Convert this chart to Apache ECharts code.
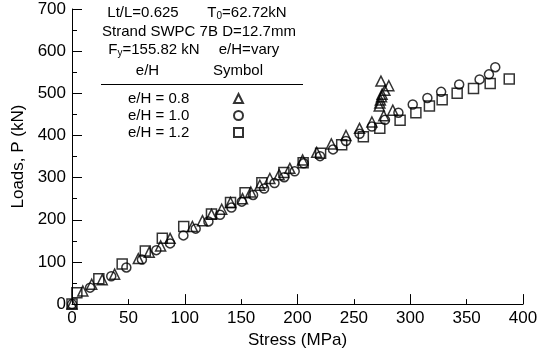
<!DOCTYPE html>
<html>
<head>
<meta charset="utf-8">
<script src="https://cdn.jsdelivr.net/npm/echarts@6/dist/echarts.min.js"></script>
<style>
html,body{margin:0;padding:0;background:#fff;}
#chart{width:550px;height:354px;}
</style>
</head>
<body>
<div id="chart"></div>
<script>
// e/H = 0.8 (triangles): [stress MPa, load kN]
var seriesEH08 = [
  [0,0],[9.6,31],[17.5,47],[26.8,58],[37.8,71],[58.8,108],[68.5,123],[78.6,138],
  [87,156],[106.8,184],[115.7,198],[123.7,213],[132.8,225],[140.6,241],[151.2,250],
  [158.6,266],[166.6,282],[175.5,298],[183.7,307],[193.2,322],[204.5,342],[217,360],
  [230,380],[243,400],[255,417],[266,432],[276.5,447],[284.5,460],
  [272.5,470],[273,477],[273.5,484],[274.5,492],[275,498],[277.5,507],[281,518],[274,529]
];
// e/H = 1.0 (circles)
var seriesEH10 = [
  [0,0],[16,39],[34.8,66],[48.2,87],[62,105.5],[74.8,128],[87,144],[98.8,163],
  [109.7,179],[121,196],[131.3,212],[141.4,229],[150.6,243],[160.6,259],[170.4,274],
  [179.6,287],[188.2,301],[197.5,315],[205.5,334],[220,351],[231.5,367],[243,387],
  [255,404],[266,421],[277.6,437],[289.5,454],[302.2,473.5],[315.2,489],[327.4,503.5],
  [343.4,521],[361.5,533],[369.8,545],[375.4,562]
];
// e/H = 1.2 (squares)
var seriesEH12 = [
  [0,0],[4.3,27],[23.8,60],[44.5,95],[65,126],[80.1,156],[99.1,184],[123.7,214],
  [140.6,241],[153.5,264],[168.4,288],[187.9,312],[205,335],[220.5,358],[239.2,378],
  [258.4,397],[273,417],[291,436],[305,454],[317,470],[328.3,485],[341.6,500],
  [356.1,511.5],[370.9,523],[387.8,534]
];
var seriesNames = ['e/H = 0.8','e/H = 1.0','e/H = 1.2'];
var xTicks = {min:0, max:400, step:50};
var yTicks = {min:0, max:700, step:100};

var FONT = 'Arial, "Liberation Sans", sans-serif';
var chart = echarts.init(document.getElementById('chart'), null, {renderer:'canvas'});

function sc(name, data, symbol, size){
  return {
    name: name, type:'scatter', data:data, symbol:symbol, symbolSize:size,
    xAxisIndex:0, yAxisIndex:0,
    itemStyle:{color:'rgba(255,255,255,0)', borderColor:'#000', borderWidth:1.5},
    emphasis:{disabled:true}
  };
}
var subRich = {sub:{fontSize:10, fontFamily:FONT, color:'#000', padding:[6,0,0,0]}};
function txt(x,y,t,rich){
  return {type:'text', x:x, y:y, style:{text:t, fontSize:15, fontFamily:FONT, fill:'#000',
    align:'center', verticalAlign:'middle', rich:rich||{}}};
}

var option = {
  animation:false,
  backgroundColor:'#fff',
  grid:{left:72, right:27, top:9, bottom:49, containLabel:false},
  xAxis:[{
    type:'value', min:xTicks.min, max:xTicks.max, interval:xTicks.step,
    name:'Stress (MPa)', nameLocation:'middle', nameGap:27,
    nameTextStyle:{fontSize:17, fontFamily:FONT, color:'#000'},
    axisLine:{show:true, lineStyle:{color:'#000', width:1}},
    axisTick:{show:true, inside:true, length:5, lineStyle:{color:'#000'}},
    axisLabel:{fontSize:17, fontFamily:FONT, color:'#000', margin:6},
    splitLine:{show:false}
  },{
    type:'value', min:xTicks.min, max:xTicks.max, interval:xTicks.step*2, position:'bottom',
    axisLine:{show:false}, axisLabel:{show:false},
    axisTick:{show:true, inside:true, length:10, lineStyle:{color:'#000'}},
    splitLine:{show:false}
  }],
  yAxis:[{
    type:'value', min:yTicks.min, max:yTicks.max, interval:yTicks.step,
    name:'Loads, P (kN)', nameLocation:'middle', nameGap:42,
    nameTextStyle:{fontSize:17, fontFamily:FONT, color:'#000'},
    axisLine:{show:true, lineStyle:{color:'#000', width:1}},
    axisTick:{show:true, inside:true, length:10, lineStyle:{color:'#000'}},
    minorTick:{show:true, splitNumber:2, length:5, lineStyle:{color:'#000'}},
    axisLabel:{fontSize:17, fontFamily:FONT, color:'#000', margin:6},
    splitLine:{show:false}
  }],
  legend:{
    orient:'vertical', left:123, top:86, align:'right',
    itemGap:2, itemWidth:9, itemHeight:9,
    data:seriesNames,
    formatter:function(n){ return '{a|' + n + '}'; },
    textStyle:{fontSize:15, fontFamily:FONT, color:'#000', lineHeight:15,
      rich:{a:{width:101, align:'left', fontSize:15, fontFamily:FONT, color:'#000', lineHeight:15}}},
    selectedMode:false
  },
  graphic:[
    txt(143,13,'Lt/L=0.625'),
    txt(247,13,'T{sub|0}=62.72kN',subRich),
    txt(199,32,'Strand SWPC 7B D=12.7mm'),
    txt(154,50,'F{sub|y}=155.82 kN',subRich),
    txt(249,50,'e/H=vary'),
    txt(147.5,71,'e/H'),
    txt(238,71,'Symbol'),
    {type:'line', shape:{x1:101, y1:84.5, x2:303, y2:84.5}, style:{stroke:'#000', lineWidth:1}}
  ],
  series:[
    sc(seriesNames[0], seriesEH08, 'triangle', 10),
    sc(seriesNames[1], seriesEH10, 'circle', 9),
    sc(seriesNames[2], seriesEH12, 'rect', 10)
  ]
};
chart.setOption(option);
</script>
</body>
</html>
